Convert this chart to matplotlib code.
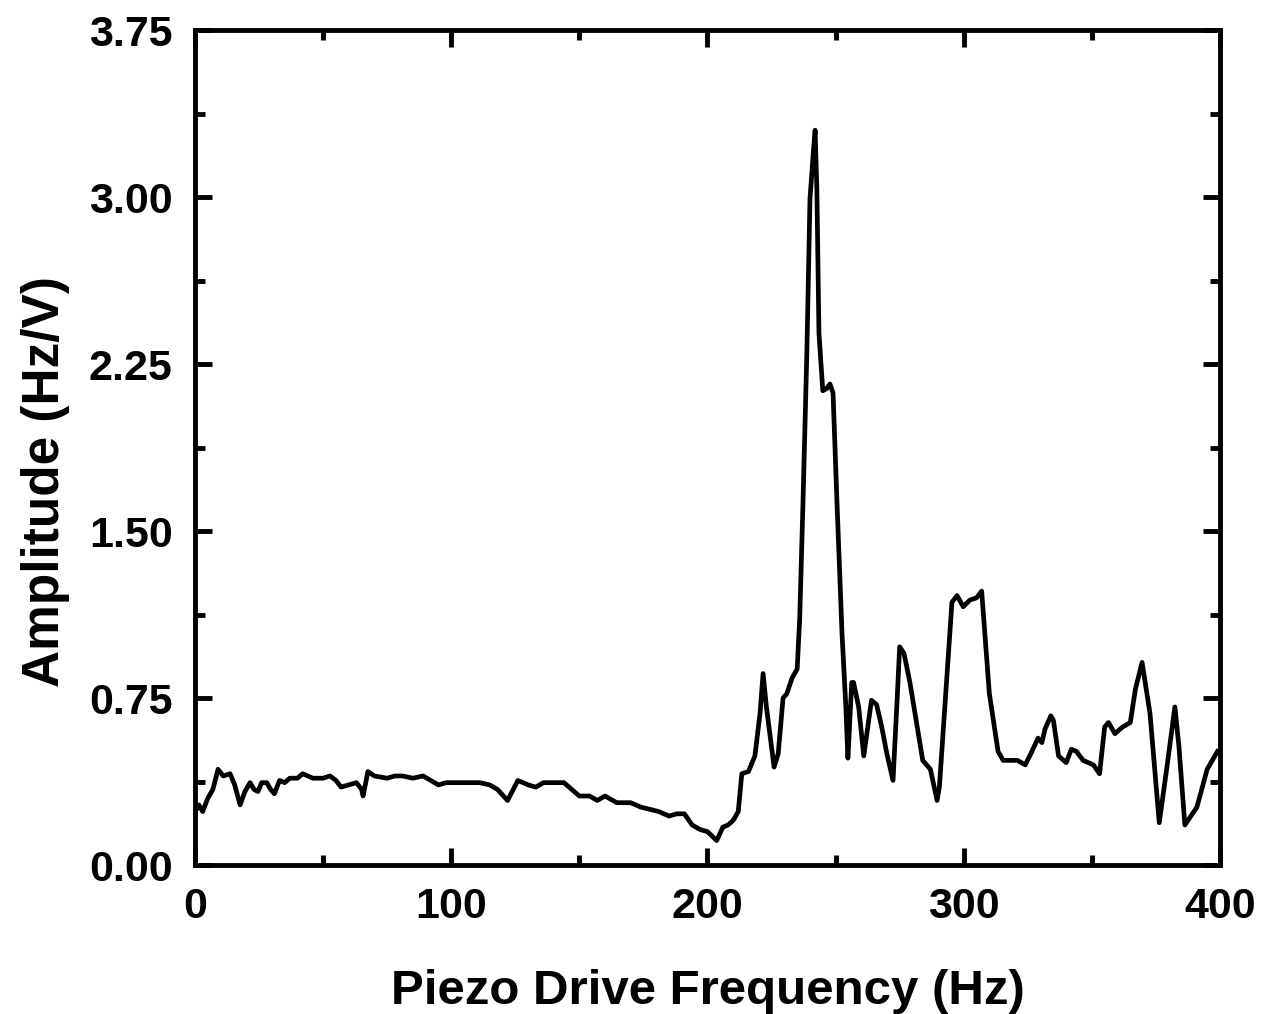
import matplotlib
matplotlib.use("Agg")
import matplotlib.pyplot as plt
from matplotlib.ticker import MultipleLocator

plt.rcParams['font.family'] = ['Liberation Sans', 'DejaVu Sans']

freq = [0, 1.5, 3, 5, 7, 9, 11, 13.7, 15.5, 17.6, 19.5, 21.5, 23, 24.6, 26, 28, 29.5, 31, 33, 35,
        37, 40, 42, 44, 46, 50, 52.7, 55, 57, 60, 63, 65, 65.6, 67.5, 70, 75, 78, 81, 85, 89,
        92, 95, 98, 102, 106, 111, 115, 118, 122, 126, 130, 133, 136, 140, 144, 147, 150, 154, 157, 160,
        164.6, 170, 174, 177.6, 181, 185, 188, 191, 194, 197, 200, 203.6, 206, 208, 210, 212, 213.4, 216, 218.5, 220.5,
        221.7, 223, 226, 227.6, 229.5, 231, 233, 235, 236, 237.3, 238.8, 240, 241.3, 242, 242.7, 243.5, 245, 246.5, 247.8, 249,
        250.5, 252.5, 254, 254.8, 256.3, 257, 259, 261, 264, 266, 268, 270, 272.4, 274, 275, 276.7, 279, 284, 287, 289.6,
        290.5, 293.4, 295.4, 297.4, 299.8, 302.4, 305, 307, 310, 313.4, 315.4, 318, 321, 324, 326.6, 329, 330.5, 331.7, 334, 335,
        337, 340, 342, 344, 346.6, 350.6, 353, 355, 356.5, 359, 362, 365, 367, 369.6, 372.7, 376.3, 379.3, 382.4, 384, 386.3,
        391, 395, 399]

amplitude = [0.24, 0.27, 0.24, 0.30, 0.34, 0.43, 0.40, 0.41, 0.36, 0.27, 0.33, 0.37, 0.34, 0.33, 0.37, 0.37, 0.34, 0.32, 0.38, 0.37,
             0.39, 0.39, 0.41, 0.40, 0.39, 0.39, 0.40, 0.38, 0.35, 0.36, 0.37, 0.34, 0.31, 0.42, 0.40, 0.39, 0.40, 0.40, 0.39, 0.40,
             0.38, 0.36, 0.37, 0.37, 0.37, 0.37, 0.36, 0.34, 0.29, 0.38, 0.36, 0.35, 0.37, 0.37, 0.37, 0.34, 0.31, 0.31, 0.29, 0.31,
             0.28, 0.28, 0.26, 0.25, 0.24, 0.22, 0.23, 0.23, 0.18, 0.16, 0.15, 0.11, 0.17, 0.18, 0.20, 0.24, 0.41, 0.42, 0.49, 0.68,
             0.86, 0.71, 0.44, 0.50, 0.75, 0.77, 0.84, 0.88, 1.11, 1.64, 2.31, 2.99, 3.20, 3.30, 3.03, 2.39, 2.13, 2.14, 2.16, 2.12,
             1.64, 1.04, 0.71, 0.48, 0.82, 0.82, 0.71, 0.49, 0.74, 0.72, 0.62, 0.50, 0.38, 0.74, 0.98, 0.95, 0.82, 0.47, 0.43, 0.29,
             0.35, 0.84, 1.18, 1.21, 1.16, 1.19, 1.20, 1.23, 0.77, 0.51, 0.47, 0.47, 0.47, 0.45, 0.51, 0.57, 0.55, 0.61, 0.67, 0.65,
             0.49, 0.46, 0.52, 0.51, 0.47, 0.45, 0.41, 0.62, 0.64, 0.59, 0.62, 0.64, 0.79, 0.91, 0.68, 0.19, 0.44, 0.71, 0.53, 0.18,
             0.26, 0.43, 0.51]

x_ticks = [0, 100, 200, 300, 400]
y_ticks = [0.00, 0.75, 1.50, 2.25, 3.00, 3.75]
y_tick_labels = ['0.00', '0.75', '1.50', '2.25', '3.00', '3.75']

fig = plt.figure(figsize=(12.62, 10.14), dpi=100)
ax = fig.add_axes([0.1545, 0.1469, 0.9667 - 0.1545, 0.9704 - 0.1469])

ax.plot(freq, amplitude, color='black', linewidth=3.4, solid_joinstyle='round')

ax.set_xlim(0, 400)
ax.set_ylim(0, 3.75)
ax.set_xticks(x_ticks)
ax.set_yticks(y_ticks)
ax.set_yticklabels(y_tick_labels)
ax.xaxis.set_minor_locator(MultipleLocator(50))
ax.yaxis.set_minor_locator(MultipleLocator(0.375))

ax.tick_params(which='both', direction='in', top=True, right=True, width=3.5)
ax.tick_params(which='major', length=12, pad=16, labelsize=31)
ax.tick_params(which='minor', length=7)
for lbl in ax.get_xticklabels() + ax.get_yticklabels():
    lbl.set_fontweight('bold')

for sp in ax.spines.values():
    sp.set_linewidth(3.5)

ax.set_xlabel('Piezo Drive Frequency (Hz)', fontsize=35.5, fontweight='bold', labelpad=30)
ax.set_ylabel('Amplitude (Hz/V)', fontsize=37, fontweight='bold')
ax.yaxis.set_label_coords(-0.122, 0.459)

fig.savefig('out.png', dpi=100)
